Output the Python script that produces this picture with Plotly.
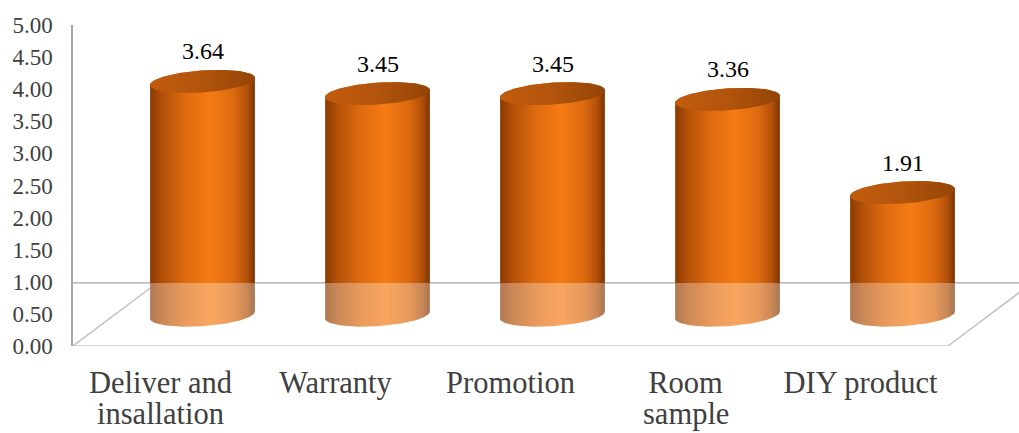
import numpy as np
import plotly.graph_objects as go

# ---- data ----
category_lines = [["Deliver and", "insallation"], ["Warranty"], ["Promotion"], ["Room", "sample"], ["DIY product"]]
values = [3.64, 3.45, 3.45, 3.36, 1.91]
value_labels = ["3.64", "3.45", "3.45", "3.36", "1.91"]
y_ticks = [0, 0.5, 1, 1.5, 2, 2.5, 3, 3.5, 4, 4.5, 5]

# ---- layout constants (style / position) ----
W, H = 1019, 433
ML, MR, MT, MB = 73, 0, 25, 87
X_MIN = -0.5
X_PX = 175.0                       # px per category unit
X_MAX = X_MIN + (W - ML - MR) / X_PX
Y_PX = (H - MT - MB) / 5.0          # px per value unit
DEPTH_X = 84 / X_PX                 # floor depth offset (x)
BACK = 63 / Y_PX                    # floor depth offset (y)
BAR_DX = DEPTH_X / 2                # bars sit in the middle of the floor depth
BASE = BACK / 2 - 0.01
A_PX, B_PX, TILT = 52.5, 11.0, np.deg2rad(4)

FONT = "Liberation Serif"
CAT_SIZE = 30.5

body_scale = [[0, '#8a3a00'], [0.12, '#b45008'], [0.35, '#e06c10'], [0.58, '#f57b14'],
              [0.8, '#dc6a10'], [0.93, '#b04e08'], [1, '#7a3400']]
top_scale = [[0, '#c25c0e'], [0.5, '#b2540c'], [1, '#944406']]


def ellipse(cx, cy, t):
    px = A_PX * np.cos(t)
    py = B_PX * np.sin(t)
    rx = px * np.cos(TILT) - py * np.sin(TILT)
    ry = px * np.sin(TILT) + py * np.cos(TILT)
    return cx + rx / X_PX, cy + ry / Y_PX


fig = go.Figure()

for i, v in enumerate(values):
    cx = i + BAR_DX
    top = BASE + v
    t_top = np.linspace(np.pi, 0, 60)
    t_bot = np.linspace(0, -np.pi, 60)
    xt, yt = ellipse(cx, top, t_top)
    xb, yb = ellipse(cx, BASE, t_bot)
    xs = np.concatenate([xt, xb, xt[:1]])
    ys = np.concatenate([yt, yb, yt[:1]])
    fig.add_trace(go.Scatter(x=xs, y=ys, mode='lines', fill='toself', line=dict(width=0),
                             fillgradient=dict(type='horizontal', colorscale=body_scale),
                             hoverinfo='skip', showlegend=False))
    tt = np.linspace(0, 2 * np.pi, 120)
    xe, ye = ellipse(cx, top, tt)
    fig.add_trace(go.Scatter(x=xe, y=ye, mode='lines', fill='toself', line=dict(width=0),
                             fillgradient=dict(type='horizontal', colorscale=top_scale),
                             hoverinfo='skip', showlegend=False))
    fig.add_annotation(x=cx, y=top, text=value_labels[i], showarrow=False, yshift=30,
                       font=dict(family=FONT, size=24, color='#000000'))

# second lines of the wrapped category labels
for i, lines in enumerate(category_lines):
    for extra in lines[1:]:
        fig.add_annotation(x=i, xref='x', y=0, yref='paper', yanchor='top', yshift=-49,
                           text=extra, showarrow=False,
                           font=dict(family=FONT, size=CAT_SIZE, color='#404040'))

line_style = dict(color='#a6a6a6', width=1.5)
# floor: back edge, left diagonal, front edge, right diagonal
fig.add_shape(type='line', xref='paper', x0=0, x1=1, yref='y', y0=BACK, y1=BACK, line=line_style, layer='below')
fig.add_shape(type='line', x0=X_MIN, y0=0, x1=X_MIN + DEPTH_X, y1=BACK, line=line_style, layer='below')
fig.add_shape(type='line', x0=X_MIN, y0=0, x1=len(values) - 0.5, y1=0, line=line_style, layer='below')
fig.add_shape(type='line', x0=len(values) - 0.5, y0=0, x1=len(values) - 0.5 + DEPTH_X, y1=BACK,
              line=line_style, layer='below')
# translucent floor plane in front of the bar bases
fig.add_shape(type='rect', xref='paper', x0=0, x1=1, y0=0, y1=BACK, fillcolor='white',
              opacity=0.32, line=dict(width=0), layer='above')

fig.update_layout(
    width=W, height=H,
    margin=dict(l=ML, r=MR, t=MT, b=MB),
    paper_bgcolor='white', plot_bgcolor='white',
    showlegend=False,
    font=dict(family=FONT),
    xaxis=dict(range=[X_MIN, X_MAX], tickmode='array', tickvals=list(range(len(category_lines))),
               ticktext=[lines[0] for lines in category_lines], showgrid=False, zeroline=False,
               showline=False, ticks='',
               tickfont=dict(family=FONT, size=CAT_SIZE, color='#404040'), ticklabelstandoff=15,
               fixedrange=True),
    yaxis=dict(range=[0, 5], tickmode='array', tickvals=y_ticks,
               ticktext=[f"{t:.2f}" for t in y_ticks], showgrid=False, zeroline=False,
               showline=True, linecolor='#a6a6a6', linewidth=1.5, ticks='',
               tickfont=dict(family=FONT, size=23, color='#404040'), ticklabelstandoff=14,
               fixedrange=True),
)

fig.write_html("out.html")
